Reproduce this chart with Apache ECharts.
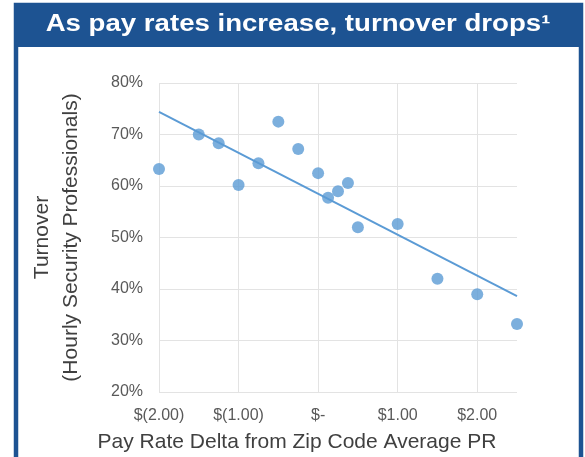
<!DOCTYPE html>
<html>
<head>
<meta charset="utf-8">
<script src="https://cdn.jsdelivr.net/npm/echarts@6/dist/echarts.min.js"></script>
<style>
html,body{margin:0;padding:0;background:#fff;}
#c{width:585px;height:457px;}
</style>
</head>
<body>
<div id="c"></div>
<script>
// Data
const payDelta = [-2, -1.5, -1.25, -1, -0.75, -0.5, -0.25, 0, 0.125, 0.25, 0.375, 0.5, 1, 1.5, 2, 2.5];
const turnover = [63.3, 70.0, 68.3, 60.2, 64.4, 72.5, 67.2, 62.5, 57.7, 59.0, 60.6, 52.0, 52.6, 42.0, 39.0, 33.2];
const trendX = [-2, 2.5];
const trendY = [74.4, 38.6];
const xTicks = [-2, -1, 0, 1, 2];
const yTicks = [20, 30, 40, 50, 60, 70, 80];
const titleText = 'As pay rates increase, turnover drops\u00B9';
const xName = 'Pay Rate Delta from Zip Code Average PR';
const yName = 'Turnover\n(Hourly Security Professionals)';

const points = payDelta.map((x, i) => [x, turnover[i]]);
const trend = trendX.map((x, i) => [x, trendY[i]]);

function fmtX(v) {
  if (xTicks.indexOf(v) < 0) return '';
  if (v === 0) return '$-';
  if (v < 0) return '$(' + Math.abs(v).toFixed(2) + ')';
  return '$' + v.toFixed(2);
}

const chart = echarts.init(document.getElementById('c'));
const FONT = '"Liberation Sans", Arial, sans-serif';
chart.setOption({
  animation: false,
  grid: { left: 159, right: 68, top: 83, bottom: 65 },
  graphic: [
    { type: 'rect', shape: { x: 16, y: 5, width: 565, height: 500 },
      style: { fill: 'none', stroke: '#1d5392', lineWidth: 4.5 }, z: 10 },
    { type: 'rect', shape: { x: 14, y: 4, width: 569, height: 43 },
      style: { fill: '#1d5392' }, z: 10 },
    { type: 'text', x: 298, y: 25, scaleX: 1.2, z: 11,
      style: { text: titleText, fill: '#ffffff', font: 'bold 23px ' + FONT,
        textAlign: 'center', textVerticalAlign: 'middle' } },
    { type: 'text', x: 297, y: 442, z: 11,
      style: { text: xName, fill: '#404040', font: '21px ' + FONT,
        textAlign: 'center', textVerticalAlign: 'middle' } }
  ],
  xAxis: {
    type: 'value', min: -2, max: 2.5, interval: 1,
    axisLine: { show: false }, axisTick: { show: false },
    axisLabel: { formatter: fmtX, color: '#595959', fontSize: 16, fontFamily: FONT, margin: 16, showMaxLabel: false },
    splitLine: { show: true, showMaxLine: false, lineStyle: { color: '#e3e3e3', width: 1 } }
  },
  yAxis: {
    type: 'value', min: yTicks[0], max: yTicks[yTicks.length - 1], interval: 10,
    name: yName, nameLocation: 'middle', nameGap: 73, nameRotate: 90,
    nameTextStyle: { color: '#404040', fontSize: 21, fontFamily: FONT, lineHeight: 29 },
    axisLine: { show: false }, axisTick: { show: false },
    axisLabel: { formatter: v => v + '%', color: '#595959', fontSize: 16, fontFamily: FONT, margin: 16 },
    splitLine: { show: true, lineStyle: { color: '#e3e3e3', width: 1 } }
  },
  series: [
    { type: 'line', data: trend, symbol: 'none', silent: true,
      lineStyle: { color: '#5b9bd5', width: 2 }, z: 2 },
    { type: 'scatter', data: points, symbolSize: 12,
      itemStyle: { color: '#5b9bd5' }, z: 3 }
  ]
});
</script>
</body>
</html>
